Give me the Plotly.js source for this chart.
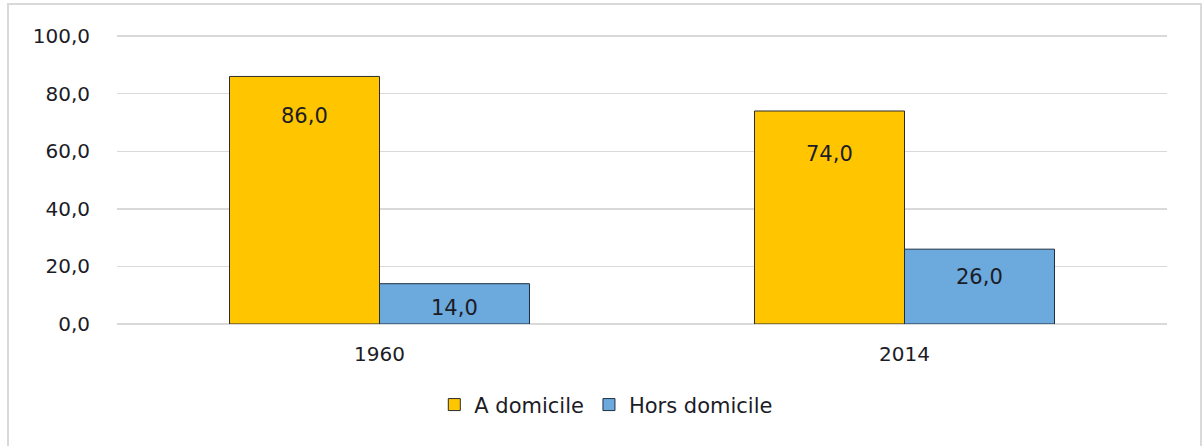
<!DOCTYPE html>
<html>
<head>
<meta charset="utf-8">
<script src="https://cdn.plot.ly/plotly-3.0.1.min.js"></script>
<style>
  html, body { margin: 0; padding: 0; background: #fff; }
  #chart { width: 1203px; height: 446px; }
</style>
</head>
<body>
<div id="chart"></div>
<script>
const categories = ['1960', '2014'];
const aDomicile = [86.0, 74.0];
const horsDomicile = [14.0, 26.0];
const seriesNames = ['A domicile', 'Hors domicile'];
const yTicks = [0, 20, 40, 60, 80, 100];

const FONT = 'DejaVu Sans, Verdana, sans-serif';
const TXT = '#1c1c26';
const fmt = v => v.toFixed(1).replace('.', ',');

const traces = [
  {
    type: 'bar', name: seriesNames[0], x: categories, y: aDomicile,
    marker: { color: '#FFC600', line: { color: '#2b2b2b', width: 1 } },
    hoverinfo: 'none'
  },
  {
    type: 'bar', name: seriesNames[1], x: categories, y: horsDomicile,
    marker: { color: '#6CA9DC', line: { color: '#1f2f45', width: 1 } },
    hoverinfo: 'none'
  }
];

// label offsets (px below bar top) — style only
const shiftA = [-40, -43];
const shiftH = [-24, -28];
const annotations = [];
categories.forEach((c, i) => {
  annotations.push({ x: i, y: aDomicile[i], xref: 'x', yref: 'y', text: fmt(aDomicile[i]),
    showarrow: false, xshift: -75, yshift: shiftA[i], font: { family: FONT, size: 21, color: TXT } });
  annotations.push({ x: i, y: horsDomicile[i], xref: 'x', yref: 'y', text: fmt(horsDomicile[i]),
    showarrow: false, xshift: 75, yshift: shiftH[i], font: { family: FONT, size: 21, color: TXT } });
});

const layout = {
  width: 1203, height: 446,
  margin: { l: 117, r: 36, t: 35, b: 122, pad: 0 },
  paper_bgcolor: 'rgba(0,0,0,0)', plot_bgcolor: 'rgba(0,0,0,0)',
  separators: ',.',
  barmode: 'group', bargap: 0.4286, bargroupgap: 0,
  showlegend: true,
  legend: {
    orientation: 'h', x: 0.466, xanchor: 'center', y: -0.28, yanchor: 'middle',
    font: { family: FONT, size: 21, color: TXT }, itemwidth: 30, traceorder: 'normal'
  },
  xaxis: {
    type: 'category', range: [-0.5, 1.5], autorange: false,
    showgrid: false, showline: false, zeroline: false, ticks: '',
    tickfont: { family: FONT, size: 20, color: TXT }, ticklabelstandoff: 16
  },
  yaxis: {
    range: [0, 100.4], autorange: false, tickvals: yTicks, ticktext: yTicks.map(fmt),
    showgrid: true, gridcolor: '#D9D9D9', gridwidth: 1.5,
    zeroline: true, zerolinecolor: '#D9D9D9', zerolinewidth: 1.5,
    showline: false, ticks: '',
    tickfont: { family: FONT, size: 20, color: TXT }, ticklabelstandoff: 26
  },
  annotations: annotations,
  shapes: [{
    type: 'rect', xref: 'paper', yref: 'paper', layer: 'below',
    x0: (8 - 117) / 1050, x1: (1201 - 117) / 1050,
    y0: -0.6, y1: (324 - 4) / 289,
    line: { color: '#D9D9D9', width: 2 }, fillcolor: 'rgba(0,0,0,0)'
  }]
};

Plotly.newPlot('chart', traces, layout, { displayModeBar: false, staticPlot: true });
</script>
</body>
</html>
